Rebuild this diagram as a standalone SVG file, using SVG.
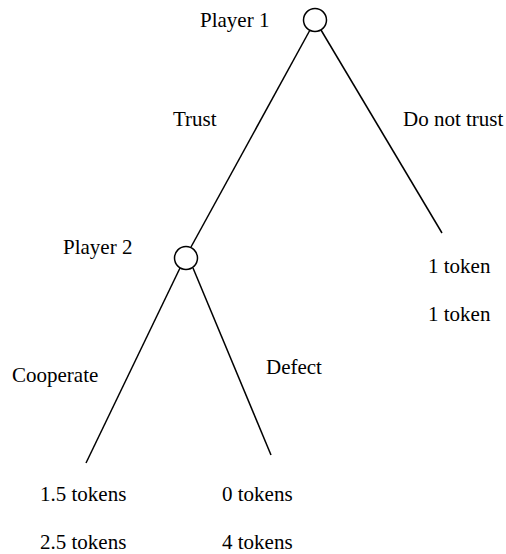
<svg xmlns="http://www.w3.org/2000/svg" width="506" height="554" viewBox="0 0 506 554">
<style>
text{font-family:'Liberation Serif','Times New Roman',Times,serif;font-size:21px;fill:#000}
.n{fill:#fff;stroke:#000;stroke-width:1.5}
.e{stroke:#000;stroke-width:1.5;fill:none}
</style>
<rect width="506" height="554" fill="#fff"/>
<g id="connectors">
<line class="e" x1="310" y1="30" x2="191" y2="247"/>
<line class="e" x1="321" y1="30" x2="442" y2="233"/>
<line class="e" x1="180" y1="268" x2="86" y2="463"/>
<line class="e" x1="193" y1="268" x2="271" y2="455"/>
</g>
<g id="labels" font-family="Liberation Serif, serif">
<text x="173" y="126">Trust</text>
<text x="403" y="126">Do not trust</text>
<text x="12" y="382">Cooperate</text>
<text x="266" y="374">Defect</text>
</g>
<g id="player1">
<circle class="n" cx="315" cy="20" r="11.5"/>
<text x="200" y="27">Player 1</text>
</g>
<g id="player2">
<circle class="n" cx="186" cy="258" r="11.5"/>
<text x="63" y="254">Player 2</text>
</g>
<g id="payoff-notrust">
<text x="428" y="273">1 token</text>
<text x="428" y="321">1 token</text>
</g>
<g id="payoff-cooperate">
<text x="40" y="501">1.5 tokens</text>
<text x="40" y="549">2.5 tokens</text>
</g>
<g id="payoff-defect">
<text x="222" y="501">0 tokens</text>
<text x="222" y="549">4 tokens</text>
</g>
</svg>
